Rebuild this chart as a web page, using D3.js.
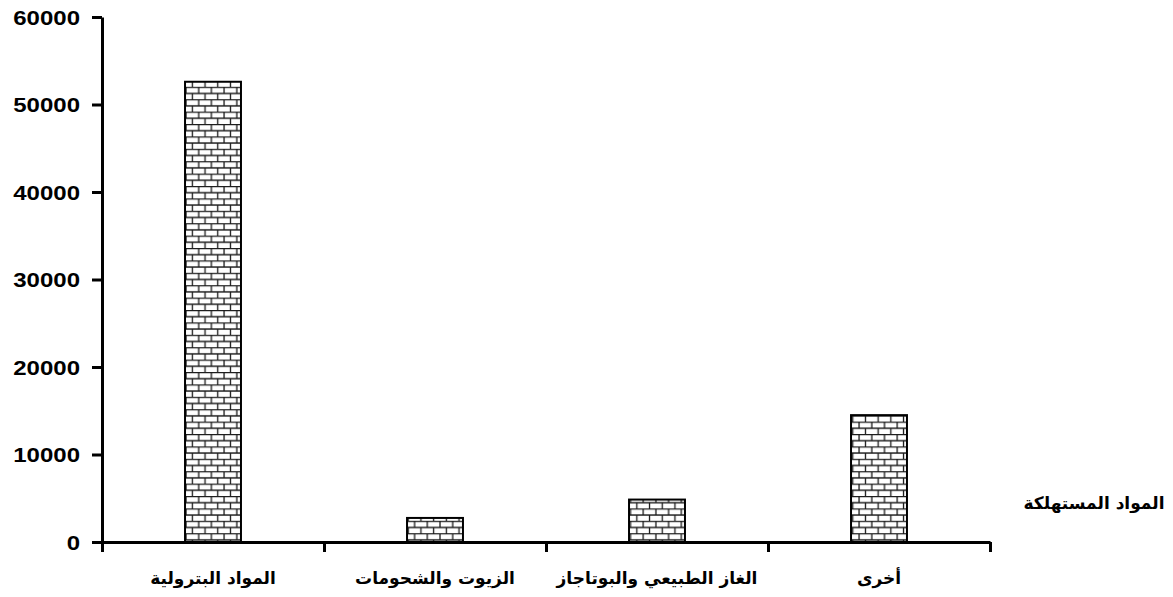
<!DOCTYPE html>
<html>
<head>
<meta charset="utf-8">
<script src="https://cdn.jsdelivr.net/npm/d3@7"></script>
<style>
    html, body { margin: 0; padding: 0; background: #ffffff; }
    svg { display: block; }
</style>
</head>
<body>
<div class="chart"></div>
<script>
// chart data
let categories = ['المواد البترولية', 'الزيوت والشحومات', 'الغاز الطبيعي والبوتاجاز', 'أخرى'];
let values = [52600, 2750, 4850, 14500];
let yTicks = [0, 10000, 20000, 30000, 40000, 50000, 60000];
let axisTitle = 'المواد المستهلكة';

let width = 1173,
    height = 597,
    plot = {left: 102, right: 990, top: 17, bottom: 542};

let svg = d3.select('.chart').append('svg')
    .attr('width', width)
    .attr('height', height);

// brick fill
let defs = svg.append('defs');
let brick = defs.append('pattern')
    .attr('id', 'brick')
    .attr('patternUnits', 'userSpaceOnUse')
    .attr('x', 185)
    .attr('y', 0)
    .attr('width', 12.7)
    .attr('height', 12.4);
brick.append('rect')
    .attr('width', 12.7)
    .attr('height', 12.4)
    .attr('fill', '#ffffff');
brick.append('path')
    .attr('d', 'M0,0.5H12.7M0,6.7H12.7M1,0.5V6.7M7.35,6.7V12.4')
    .attr('stroke', '#1a1a1a')
    .attr('stroke-width', 1.3)
    .attr('fill', 'none');

let x = d3.scaleBand()
    .domain(categories)
    .range([plot.left, plot.right])
    .paddingInner(0.748)
    .paddingOuter(0.374);

let xEdges = d3.scaleLinear()
    .domain([0, categories.length])
    .range([plot.left, plot.right]);

let y = d3.scaleLinear()
    .domain([0, 60000])
    .range([plot.bottom, plot.top]);

// bars
svg.selectAll('.bar')
    .data(values)
    .enter().append('rect')
    .attr('class', 'bar')
    .attr('x', function(d, i) { return x(categories[i]); })
    .attr('y', function(d) { return y(d); })
    .attr('width', x.bandwidth())
    .attr('height', function(d) { return plot.bottom - y(d); })
    .attr('fill', 'url(#brick)')
    .attr('stroke', '#000000')
    .attr('stroke-width', 2);

// y axis
let yAxisGroup = svg.append('g')
    .attr('transform', 'translate(' + plot.left + ',0)')
    .call(d3.axisLeft(y).tickValues(yTicks).tickFormat(d3.format('d'))
        .tickSize(10).tickPadding(12).tickSizeOuter(0));
yAxisGroup.select('.domain')
    .attr('stroke', '#000000')
    .attr('stroke-width', 3);
yAxisGroup.selectAll('.tick line')
    .attr('stroke', '#000000')
    .attr('stroke-width', 3);
yAxisGroup.selectAll('.tick text')
    .attr('fill', '#000000')
    .attr('font-family', 'Liberation Sans, Arial, sans-serif')
    .attr('font-weight', 'bold')
    .attr('font-size', 20)
    .attr('dy', '0.36em')
    .each(function() {
        let w = this.getComputedTextLength();
        d3.select(this)
            .attr('textLength', w * 1.2)
            .attr('lengthAdjust', 'spacingAndGlyphs');
    });

// x axis: ticks at category edges, no labels
let xAxisGroup = svg.append('g')
    .attr('transform', 'translate(0,' + plot.bottom + ')')
    .call(d3.axisBottom(xEdges).ticks(categories.length).tickSize(10).tickSizeOuter(0).tickFormat(''));
xAxisGroup.select('.domain')
    .attr('stroke', '#000000')
    .attr('stroke-width', 3);
xAxisGroup.selectAll('.tick line')
    .attr('stroke', '#000000')
    .attr('stroke-width', 3);

// category labels
svg.selectAll('.cat-label')
    .data(categories)
    .enter().append('text')
    .attr('class', 'cat-label')
    .attr('x', function(d) { return x(d) + x.bandwidth() / 2; })
    .attr('y', 584)
    .attr('text-anchor', 'middle')
    .attr('direction', 'rtl')
    .attr('font-family', 'DejaVu Sans, sans-serif')
    .attr('font-weight', 'bold')
    .attr('font-size', 17)
    .attr('fill', '#000000')
    .text(function(d) { return d; });

// axis title at the right
svg.append('text')
    .attr('x', 1094)
    .attr('y', 509)
    .attr('text-anchor', 'middle')
    .attr('direction', 'rtl')
    .attr('font-family', 'DejaVu Sans, sans-serif')
    .attr('font-weight', 'bold')
    .attr('font-size', 17)
    .attr('fill', '#000000')
    .text(axisTitle);
</script>
</body>
</html>
